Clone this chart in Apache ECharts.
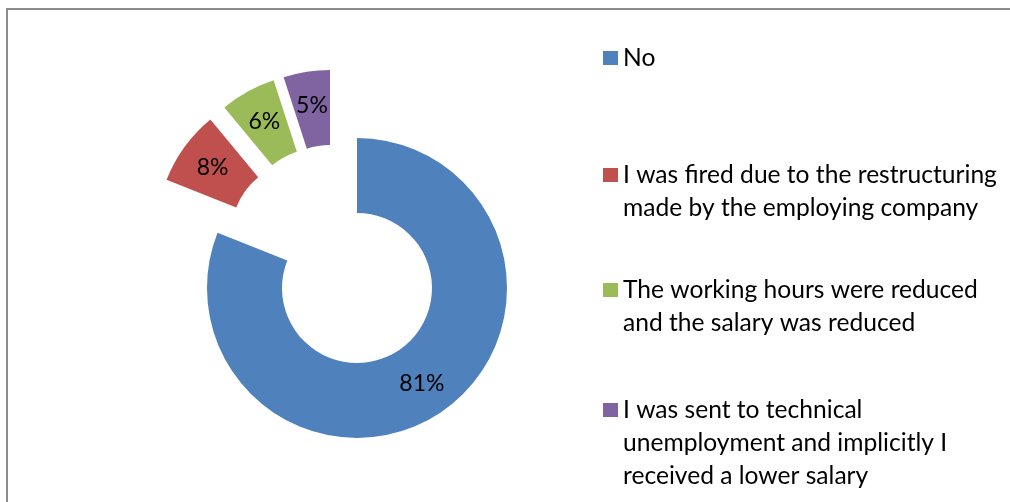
<!DOCTYPE html>
<html>
<head>
<meta charset="utf-8">
<script src="https://cdn.jsdelivr.net/npm/echarts@6/dist/echarts.min.js"></script>
<style>
  html, body { margin: 0; padding: 0; background: #ffffff; }
  #chart { width: 1010px; height: 502px; }
</style>
</head>
<body>
<div id="chart"></div>
<script>
// Survey answers and their shares (%)
const categories = [
  'No',
  'I was fired due to the restructuring\nmade by the employing company',
  'The working hours were reduced\nand the salary was reduced',
  'I was sent to technical\nunemployment and implicitly I\nreceived a lower salary'
];
const values = [81, 8, 6, 5];
const colors = ['#4F81BD', '#C0504D', '#9BBB59', '#8064A2'];

// Each slice is pulled out from the ring by its own offset, so each one
// is drawn by its own pie series that shares the full data set.
const sliceCenters = [[357, 288], [306, 235], [320, 223], [330, 220]];
// Top of each legend block
const legendTops = [41.5, 125.5, 240.5, 327.5];

const FONT = 'Lato, "Open Sans", sans-serif';
const LEGEND_SIZE = 24.6;
const LABEL_SIZE = 23;
const LINE_H = 33;

const chart = echarts.init(document.getElementById('chart'), null, { renderer: 'canvas' });

const series = categories.map((_, s) => ({
  type: 'pie',
  silent: true,
  animation: false,
  center: sliceCenters[s],
  radius: [75, 150],
  startAngle: 90,
  clockwise: true,
  avoidLabelOverlap: false,
  emphasis: { disabled: true },
  labelLine: { show: false },
  data: categories.map((name, i) => ({
    name: name,
    value: values[i],
    itemStyle: { color: i === s ? colors[i] : 'rgba(0,0,0,0)' },
    label: {
      show: i === s,
      position: 'inside',
      formatter: '{c}%',
      color: '#000000',
      fontFamily: FONT,
      fontSize: LABEL_SIZE
    }
  }))
}));

// The legend text is centred on its marker, so blank lines are put in front
// of multi-line entries to keep the marker beside the first line.
const legends = categories.map((name, i) => {
  const lines = name.split('\n').length;
  return {
    selectedMode: false,
    orient: 'vertical',
    left: 603,
    top: legendTops[i],
    padding: 0,
    itemWidth: 15,
    itemHeight: 14,
    icon: 'rect',
    data: [{ name: name, itemStyle: { color: colors[i] } }],
    formatter: (n) => '\n'.repeat(lines - 1) + n,
    textStyle: {
      fontFamily: FONT,
      fontSize: LEGEND_SIZE,
      lineHeight: LINE_H,
      color: '#000000'
    }
  };
});

chart.setOption({
  animation: false,
  backgroundColor: '#ffffff',
  legend: legends,
  graphic: [{
    type: 'rect',
    silent: true,
    shape: { x: 7, y: 9, width: 1100, height: 600 },
    style: { fill: 'none', stroke: '#8c8c8c', lineWidth: 2 }
  }],
  series: series
});
</script>
</body>
</html>
